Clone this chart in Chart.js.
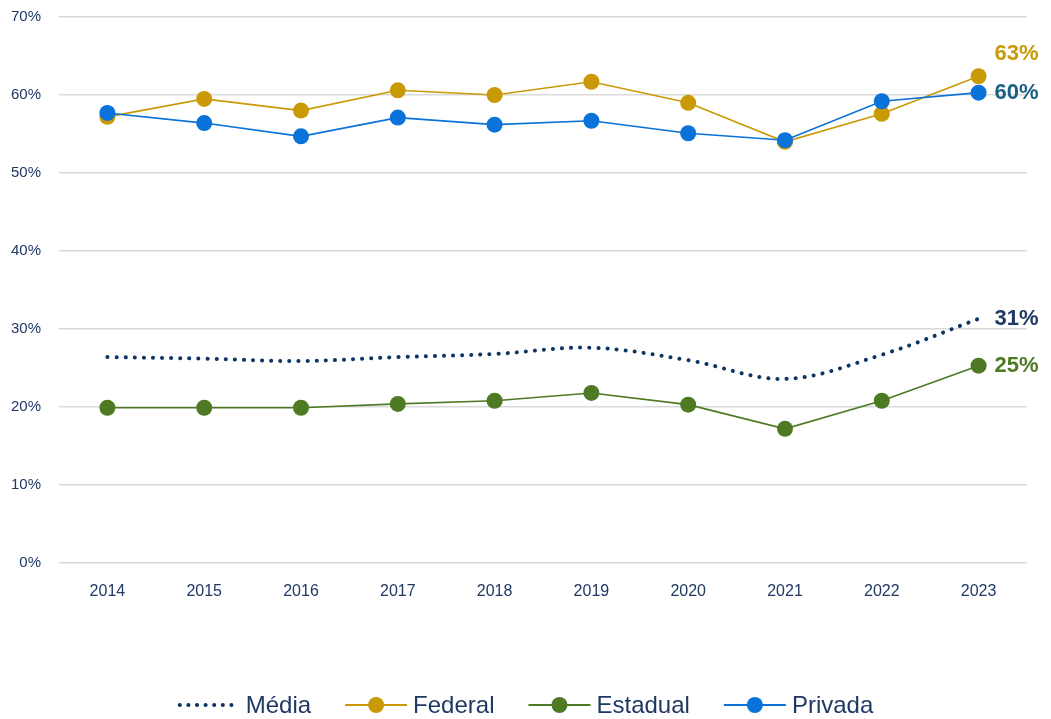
<!DOCTYPE html>
<html lang="pt">
<head>
<meta charset="UTF-8">
<title>Evolução por rede</title>
<script src="https://cdn.jsdelivr.net/npm/chart.js"></script>
<style>
    html, body { margin: 0; padding: 0; background: #ffffff; }
    #wrap { width: 1051px; height: 719px; position: relative; }
</style>
</head>
<body>
<div id="wrap"><canvas id="chart" width="1051" height="719"></canvas></div>
<script>
    const years = ['2014', '2015', '2016', '2017', '2018', '2019', '2020', '2021', '2022', '2023'];
    const media    = [26.4, 26.2, 25.9, 26.4, 26.8, 27.6, 26.0, 23.6, 26.7, 31.3];
    const federal  = [57.2, 59.5, 58.0, 60.6, 60.0, 61.7, 59.0, 54.0, 57.6, 62.4];
    const estadual = [19.9, 19.9, 19.9, 20.4, 20.8, 21.8, 20.3, 17.2, 20.8, 25.3];
    const privada  = [57.7, 56.4, 54.7, 57.1, 56.2, 56.7, 55.1, 54.2, 59.2, 60.3];
    const endLabels = ['31%', '63%', '25%', '60%'];

    const navy = '#1f3864';

    // last value labels to the right of each series
    const endLabelPlugin = {
        id: 'endLabels',
        afterDatasetsDraw(chart) {
            const ctx = chart.ctx;
            ctx.save();
            ctx.font = 'bold 22px "Liberation Sans", Arial, sans-serif';
            ctx.textBaseline = 'middle';
            chart.data.datasets.forEach((ds, i) => {
                const meta = chart.getDatasetMeta(i);
                const pt = meta.data[meta.data.length - 1];
                ctx.fillStyle = ds.labelColor;
                ctx.fillText(endLabels[i], pt.x + 16, pt.y + (ds.labelDy || 0));
            });
            ctx.restore();
        }
    };

    // legend drawn by hand: dotted line for Média, line + dot for the others
    const legendPlugin = {
        id: 'customLegend',
        afterDraw(chart) {
            const ctx = chart.ctx;
            const y = 705;
            const symW = 62, gapText = 6, gapItem = 34;
            ctx.save();
            ctx.font = '24px "Liberation Sans Narrow", "Liberation Sans", Arial, sans-serif';
            ctx.textBaseline = 'middle';
            const items = chart.data.datasets.map(ds => ({ ds, w: ctx.measureText(ds.label).width }));
            let total = 0;
            items.forEach((it, i) => { total += symW + gapText + it.w + (i < items.length - 1 ? gapItem : 0); });
            let x = (chart.width - total) / 2;
            items.forEach(it => {
                const ds = it.ds;
                ctx.strokeStyle = ds.borderColor;
                if (ds.borderDash && ds.borderDash.length) {
                    ctx.lineWidth = 4;
                    ctx.lineCap = 'round';
                    ctx.setLineDash([0.1, 8.5]);
                    ctx.beginPath();
                    ctx.moveTo(x + 2, y);
                    ctx.lineTo(x + symW - 2, y);
                    ctx.stroke();
                    ctx.setLineDash([]);
                } else {
                    ctx.lineWidth = 2;
                    ctx.lineCap = 'butt';
                    ctx.beginPath();
                    ctx.moveTo(x, y);
                    ctx.lineTo(x + symW, y);
                    ctx.stroke();
                    ctx.fillStyle = ds.pointBackgroundColor;
                    ctx.beginPath();
                    ctx.arc(x + symW / 2, y, 8, 0, Math.PI * 2);
                    ctx.fill();
                }
                x += symW + gapText;
                ctx.fillStyle = navy;
                ctx.fillText(ds.label, x, y + 1);
                x += it.w + gapItem;
            });
            ctx.restore();
        }
    };

    new Chart(document.getElementById('chart'), {
        type: 'line',
        data: {
            labels: years,
            datasets: [
                {
                    label: 'Média',
                    data: media,
                    order: 3,
                    borderColor: '#0d3563',
                    borderWidth: 4,
                    borderDash: [0.1, 9],
                    borderCapStyle: 'round',
                    tension: 0.35,
                    pointRadius: 0,
                    labelColor: '#1f3864'
                },
                {
                    label: 'Federal',
                    data: federal,
                    order: 2,
                    borderColor: '#c99a06',
                    borderWidth: 1.6,
                    pointRadius: 8,
                    pointBackgroundColor: '#c99a06',
                    pointBorderWidth: 0,
                    labelColor: '#c99a06',
                    labelDy: -22
                },
                {
                    label: 'Estadual',
                    data: estadual,
                    order: 1,
                    borderColor: '#4e7a23',
                    borderWidth: 1.6,
                    pointRadius: 8,
                    pointBackgroundColor: '#4e7a23',
                    pointBorderWidth: 0,
                    labelColor: '#4e7a23'
                },
                {
                    label: 'Privada',
                    data: privada,
                    order: 0,
                    borderColor: '#0a72d8',
                    borderWidth: 1.6,
                    pointRadius: 8,
                    pointBackgroundColor: '#0a72d8',
                    pointBorderWidth: 0,
                    labelColor: '#1c5f86'
                }
            ]
        },
        options: {
            responsive: false,
            animation: false,
            layout: { autoPadding: false, padding: { top: 17, right: 24, bottom: 96, left: 0 } },
            plugins: {
                legend: { display: false },
                tooltip: { enabled: false }
            },
            scales: {
                x: {
                    offset: true,
                    grid: { display: false, drawTicks: false },
                    border: { display: false },
                    ticks: {
                        padding: 19,
                        color: navy,
                        font: { family: '"Liberation Sans", Arial, sans-serif', size: 16 }
                    },
                    afterFit: s => { s.height = 60; }
                },
                y: {
                    min: 0,
                    max: 70,
                    // tick marks are invisible; their length only pushes the labels left
                    grid: { color: '#d9d9d9', lineWidth: 1.5, drawTicks: true, tickLength: 18, tickColor: 'rgba(0,0,0,0)' },
                    border: { display: false },
                    ticks: {
                        stepSize: 10,
                        padding: 0,
                        color: navy,
                        font: { family: '"Liberation Sans", Arial, sans-serif', size: 15 },
                        callback: v => v + '%'
                    },
                    afterFit: s => { s.width = 59; }
                }
            }
        },
        plugins: [endLabelPlugin, legendPlugin]
    });
</script>
</body>
</html>
